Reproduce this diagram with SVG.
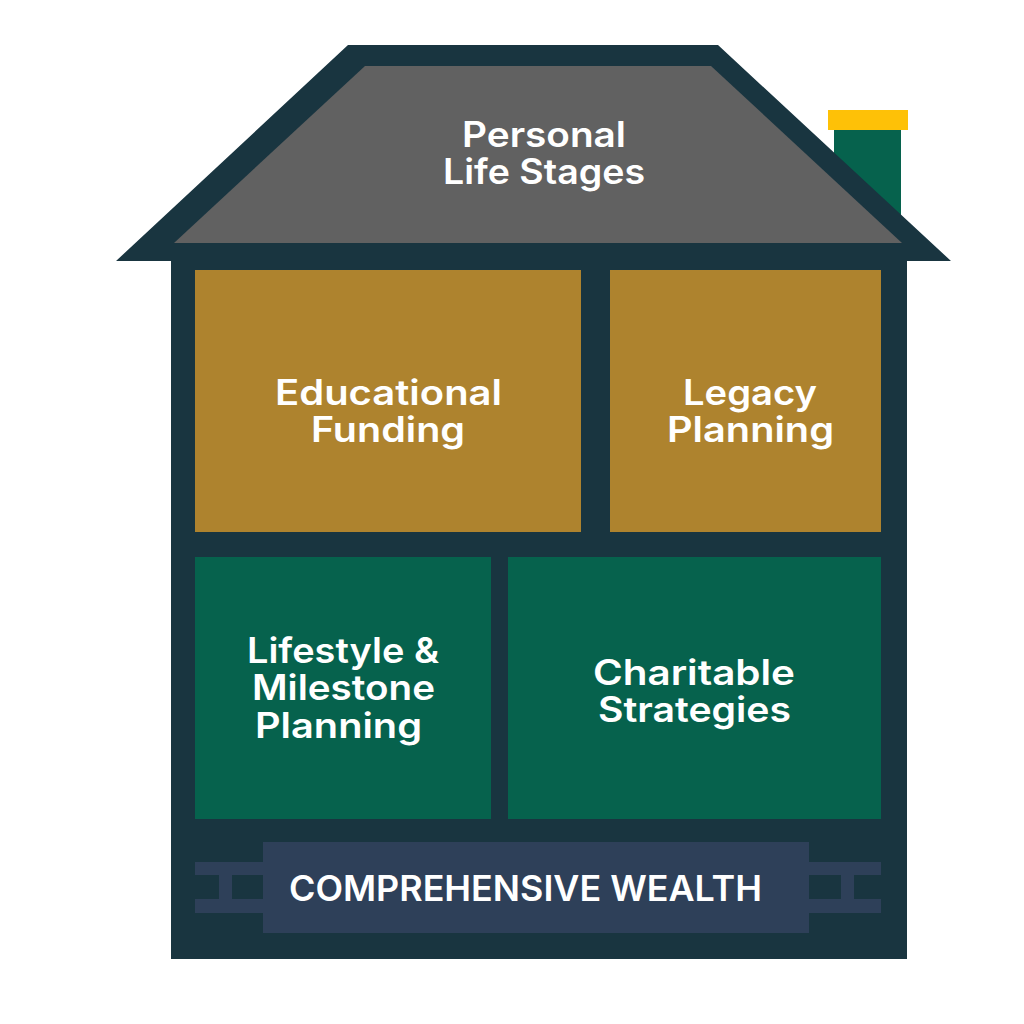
<svg xmlns="http://www.w3.org/2000/svg" width="1024" height="1024" viewBox="0 0 1024 1024">
<style>
.l{font-family:"Inter","Liberation Sans",sans-serif;font-weight:600;font-size:35px;fill:#fff;text-anchor:middle}
.gold{fill:#ae832e}.green{fill:#06624d}.frame{fill:#193540}.slab{fill:#2e4059}
</style>
<rect width="1024" height="1024" fill="#fff"/>
<g id="chimney">
<rect x="834" y="129" width="67" height="90" class="green"/>
<rect x="828" y="110" width="80" height="20" fill="#fec107"/>
</g>
<g id="house-frame">
<polygon class="frame" points="116,261 348,45 718,45 951,261 907,261 907,959 171,959 171,261"/>
</g>
<g id="roof">
<polygon points="174,243 365,66 711,66 902,243" fill="#616161"/>
<text class="l" x="544" y="147" textLength="164" lengthAdjust="spacingAndGlyphs">Personal</text>
<text class="l" x="544" y="184" textLength="202" lengthAdjust="spacingAndGlyphs">Life Stages</text>
</g>
<g id="educational">
<rect x="195" y="270" width="386" height="262" class="gold"/>
<text class="l" x="388.500" y="405" textLength="227" lengthAdjust="spacingAndGlyphs">Educational</text>
<text class="l" x="388" y="442" textLength="154" lengthAdjust="spacingAndGlyphs">Funding</text>
</g>
<g id="legacy">
<rect x="610" y="270" width="271" height="262" class="gold"/>
<text class="l" x="750" y="405" textLength="134" lengthAdjust="spacingAndGlyphs">Legacy</text>
<text class="l" x="750.500" y="442" textLength="167" lengthAdjust="spacingAndGlyphs">Planning</text>
</g>
<g id="lifestyle">
<rect x="195" y="557" width="296" height="262" class="green"/>
<text class="l" x="343" y="663" textLength="192" lengthAdjust="spacingAndGlyphs">Lifestyle &amp;</text>
<text class="l" x="343.500" y="700" textLength="183" lengthAdjust="spacingAndGlyphs">Milestone</text>
<text class="l" x="338.500" y="738" textLength="167" lengthAdjust="spacingAndGlyphs">Planning</text>
</g>
<g id="charitable">
<rect x="508" y="557" width="373" height="262" class="green"/>
<text class="l" x="694" y="685" textLength="202" lengthAdjust="spacingAndGlyphs">Charitable</text>
<text class="l" x="694.500" y="722" textLength="193" lengthAdjust="spacingAndGlyphs">Strategies</text>
</g>
<g id="foundation">
<rect x="195" y="862" width="686" height="13" class="slab"/>
<rect x="195" y="899" width="686" height="14" class="slab"/>
<rect x="219" y="870" width="13" height="35" class="slab"/>
<rect x="841" y="870" width="13" height="35" class="slab"/>
<rect x="263" y="842" width="546" height="91" class="slab"/>
<text class="l" x="525.500" y="901" textLength="473" lengthAdjust="spacingAndGlyphs">COMPREHENSIVE WEALTH</text>
</g>
</svg>
